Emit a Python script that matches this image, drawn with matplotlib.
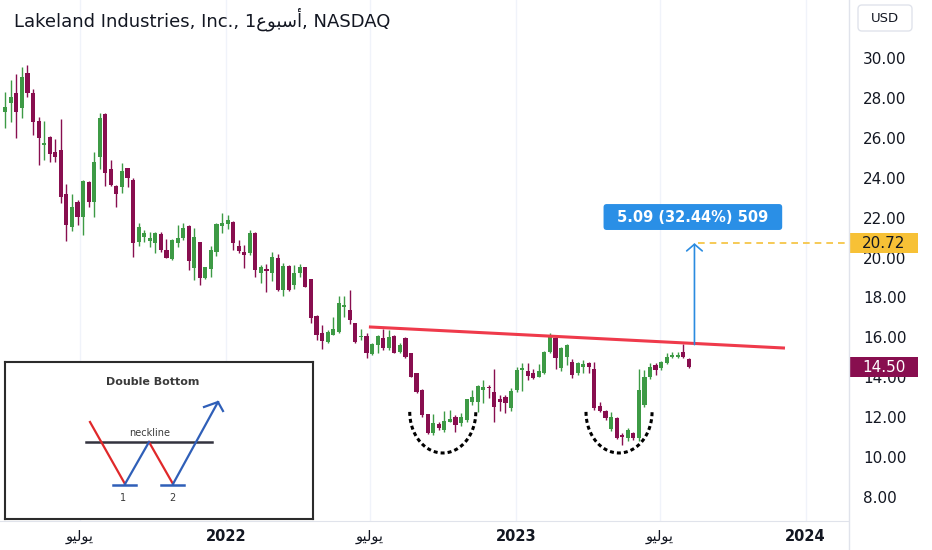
import matplotlib
matplotlib.use('Agg')
import matplotlib.pyplot as plt
import matplotlib.dates as mdates
import matplotlib.transforms as mtransforms
from matplotlib.patches import Rectangle, FancyBboxPatch
from matplotlib.lines import Line2D
import numpy as np
import pandas as pd

plt.rcParams['font.family'] = ['DejaVu Sans']

# weekly candles (last week = 2023-08-07)
opens = [27.31, 27.76, 28.23, 27.48, 29.23, 28.23, 26.86, 25.64, 26.06, 25.27,
         25.39, 23.18, 21.51, 22.76, 22.05, 23.80, 22.80, 25.05, 27.19, 24.42,
         23.60, 23.52, 24.50, 23.88, 20.79, 21.04, 20.84, 20.71, 21.18, 20.38,
         19.91, 20.71, 21.00, 21.60, 19.46, 20.76, 18.96, 19.40, 20.29, 21.58,
         21.66, 21.80, 20.59, 20.26, 20.21, 21.24, 19.24, 19.41, 19.21, 19.96,
         18.37, 19.57, 18.62, 19.21, 19.54, 18.90, 17.07, 16.23, 15.78, 16.11,
         16.28, 17.50, 17.37, 16.73, 16.00, 16.07, 15.16, 15.61, 15.95, 15.45,
         16.07, 15.28, 15.95, 15.20, 14.19, 13.36, 12.15, 11.19, 11.65, 11.35,
         11.77, 12.02, 11.69, 11.85, 12.77, 12.77, 13.36, 13.49, 13.27, 12.89,
         12.99, 12.44, 13.36, 14.36, 14.31, 14.23, 14.03, 14.19, 15.28, 15.95,
         14.44, 15.03, 14.78, 14.19, 14.53, 14.73, 14.40, 12.56, 12.32, 11.39,
         11.94, 11.10, 10.94, 11.22, 10.94, 12.61, 14.03, 14.61, 14.44, 14.73,
         14.99, 15.00, 15.28, 14.90]
highs = [28.31, 28.90, 29.18, 29.56, 29.65, 28.43, 27.06, 26.86, 26.09, 25.92,
         26.94, 23.67, 23.17, 22.88, 23.88, 23.83, 25.30, 27.23, 27.26, 24.89,
         23.63, 24.72, 24.50, 23.97, 21.75, 21.38, 21.29, 21.29, 21.29, 20.91,
         20.91, 21.63, 21.71, 21.63, 21.46, 20.79, 19.54, 20.58, 21.75, 22.21,
         22.13, 21.83, 20.88, 20.63, 21.38, 21.29, 19.62, 19.67, 20.29, 20.17,
         19.71, 19.62, 19.62, 19.67, 19.54, 18.90, 17.12, 16.62, 16.37, 17.03,
         18.07, 18.07, 18.37, 16.73, 16.40, 16.23, 15.73, 16.12, 16.40, 16.37,
         16.12, 15.70, 16.00, 15.23, 14.23, 13.39, 12.15, 12.15, 11.77, 12.32,
         12.36, 12.10, 12.19, 12.89, 13.36, 13.61, 13.86, 13.61, 14.40, 13.10,
         13.11, 13.44, 14.53, 14.73, 14.73, 14.40, 14.66, 15.33, 16.20, 16.03,
         15.50, 15.65, 14.90, 14.78, 14.86, 14.78, 14.78, 12.77, 12.36, 12.27,
         11.99, 11.19, 11.44, 11.27, 14.40, 14.36, 14.73, 14.70, 14.83, 15.23,
         15.28, 15.28, 15.66, 14.95]
lows = [26.47, 26.81, 25.97, 26.97, 28.06, 26.14, 24.64, 24.89, 24.80, 24.80,
        22.71, 20.84, 21.34, 21.63, 21.13, 22.51, 22.05, 24.42, 23.58, 23.58,
        22.55, 23.25, 23.55, 20.04, 20.60, 20.79, 20.51, 20.24, 20.29, 19.96,
        19.87, 20.51, 20.88, 19.37, 18.87, 18.62, 18.90, 19.00, 20.08, 21.21,
        21.41, 20.38, 20.21, 19.46, 20.12, 19.00, 18.74, 18.29, 18.84, 18.34,
        18.07, 18.34, 18.40, 19.00, 18.50, 16.73, 15.86, 15.40, 15.73, 16.11,
        16.20, 17.03, 16.66, 15.73, 15.86, 14.95, 15.11, 15.20, 15.36, 15.36,
        15.20, 15.20, 14.95, 14.00, 13.23, 12.02, 11.15, 11.10, 11.35, 11.27,
        11.77, 11.27, 11.55, 11.77, 12.61, 12.27, 12.69, 12.94, 11.77, 12.30,
        12.22, 12.32, 13.27, 13.32, 13.86, 13.89, 13.99, 14.16, 15.23, 14.40,
        14.33, 14.60, 13.95, 14.11, 14.19, 14.19, 12.36, 12.27, 11.85, 11.32,
        10.89, 10.60, 10.82, 10.85, 10.82, 12.49, 13.89, 14.11, 14.36, 14.66,
        14.95, 14.95, 14.95, 14.44]
closes = [27.53, 28.06, 27.31, 29.06, 28.23, 26.81, 25.97, 25.72, 25.19, 25.02,
          23.05, 21.63, 22.55, 22.01, 23.83, 22.80, 24.80, 26.98, 24.22, 23.63,
          23.17, 24.35, 23.97, 20.74, 21.55, 21.21, 20.96, 21.21, 20.38, 19.99,
          20.88, 20.96, 21.46, 19.84, 21.04, 18.96, 19.54, 20.37, 21.68, 21.71,
          21.88, 20.74, 20.34, 20.12, 21.21, 19.37, 19.54, 19.33, 20.04, 18.37,
          19.57, 18.37, 19.21, 19.51, 18.54, 16.95, 16.11, 15.83, 16.28, 16.40,
          17.70, 17.62, 16.87, 15.78, 16.07, 15.20, 15.66, 16.07, 15.45, 16.03,
          15.23, 15.61, 14.99, 14.03, 13.27, 12.10, 11.19, 11.69, 11.44, 11.82,
          11.89, 11.60, 12.02, 12.89, 13.02, 13.56, 13.52, 13.44, 12.49, 12.77,
          12.72, 13.32, 14.36, 14.44, 14.06, 13.94, 14.31, 15.28, 16.00, 14.95,
          15.45, 15.61, 14.10, 14.70, 14.65, 14.53, 12.44, 12.32, 11.94, 12.02,
          10.94, 11.02, 11.35, 10.94, 13.36, 13.99, 14.53, 14.36, 14.78, 14.99,
          15.11, 15.11, 14.99, 14.50]
last_week = '2023-08-07'

title = 'Lakeland Industries, Inc., 1\ufec9\ufeee\ufe92\ufeb3\ufe83, NASDAQ'
july = '\ufeee\ufef4\ufedf\ufeee\ufef3'
tick_dates = ['2021-07-01', '2022-01-01', '2022-07-01', '2023-01-01', '2023-07-01', '2024-01-01']
tick_labels = [july, '2022', july, '2023', july, '2024']
price_ticks = np.arange(8, 31, 2)

# drawings on the chart
neck_start, neck_end = ('2022-06-30', 16.52), ('2023-12-06', 15.46)
target, move_from = 20.72, 15.63
arrow_date = '2023-08-14'
measure_text = '5.09 (32.44%) 509'
bottoms = ['2022-10-01', '2023-05-11']   # centres of the dotted cups
cup_top, cup_low, cup_half = 12.26, 10.20, 41.6

GREEN = '#3d9a45'
MAROON = '#880e4f'
GRID = '#f0f3fa'
LINE = '#e0e3eb'
TXT = '#131722'

fig = plt.figure(figsize=(9.32, 5.5), dpi=100)
ax = fig.add_axes([0, 29 / 550, 848 / 932, 521 / 550])

dates = pd.date_range(end=last_week, periods=len(opens), freq='W-MON')
x = mdates.date2num(dates)
o, h, l, c = map(np.array, (opens, highs, lows, closes))
cols = np.where(c >= o, GREEN, MAROON)
ax.vlines(x, l, h, colors=cols, lw=1, zorder=3)
ax.bar(x, np.maximum(np.abs(c - o), 0.05), bottom=np.minimum(o, c), width=5.2,
       color=cols, linewidth=0, zorder=3)

jan22 = mdates.date2num(pd.Timestamp('2022-01-01'))
x0, x1 = jan22 - 226 / 0.794, jan22 + 622 / 0.794
ax.set_xlim(x0, x1)
ax.set_ylim(6.79, 32.91)

ax.set_xticks(mdates.date2num(pd.to_datetime(tick_dates)))
ax.set_xticklabels(tick_labels)
for t in ax.get_xticklabels():
    if t.get_text().isdigit():
        t.set_fontweight('bold')
ax.tick_params(axis='x', length=0, pad=6, labelsize=10.5, labelcolor=TXT)
ax.yaxis.tick_right()
ax.set_yticks(price_ticks)
ax.set_yticklabels(['%.2f' % v for v in price_ticks])
ax.tick_params(axis='y', length=0, pad=11, labelsize=11, labelcolor=TXT)
ax.grid(axis='x', color=GRID, lw=1, zorder=0)
for s in ['top', 'left', 'right']:
    ax.spines[s].set_visible(False)
ax.spines['bottom'].set_color(LINE)
fig.add_artist(Line2D([849 / 932] * 2, [0, 1], transform=fig.transFigure, color=LINE, lw=1))

# neckline
ax.plot(mdates.date2num(pd.to_datetime([neck_start[0], neck_end[0]])),
        [neck_start[1], neck_end[1]], color='#ef3a4b', lw=2.2, zorder=5,
        solid_capstyle='butt')

# dotted cups
th = np.linspace(0, np.pi, 60)
for b in bottoms:
    cx = mdates.date2num(pd.Timestamp(b))
    ax.plot(cx - cup_half * np.cos(th), cup_top - (cup_top - cup_low) * np.sin(th),
            color='black', lw=2.2, ls=(0, (1.3, 1.0)), zorder=5)

# measure arrow
xa = mdates.date2num(pd.Timestamp(arrow_date))
ax.annotate('', xy=(xa, target), xytext=(xa, move_from),
            arrowprops=dict(arrowstyle='->,head_length=0.3,head_width=0.35',
                            color='#2a8be0', lw=1.2, shrinkA=0, shrinkB=0,
                            mutation_scale=16), zorder=6)
ax.axhline(target, xmin=(xa + 5 - x0) / (x1 - x0), xmax=1, color='#f5c13a',
           lw=1.2, ls=(0, (4, 3)), zorder=4)
lbl_x = mdates.date2num(pd.Timestamp('2023-08-12'))
ax.add_patch(FancyBboxPatch((lbl_x - 112.5, 21.38), 225, 1.30,
                            boxstyle='round,pad=0,rounding_size=4',
                            mutation_aspect=0.04, fc='#2a8fe6', ec='none', zorder=7))
ax.text(lbl_x, 22.03, measure_text, color='white', fontsize=10.5, fontweight='bold',
        ha='center', va='center', zorder=8)

# price scale labels
bt = mtransforms.blended_transform_factory(ax.transAxes, ax.transData)
for val, fc, tc in [(target, '#f7c136', TXT), (closes[-1], MAROON, 'white')]:
    ax.add_patch(Rectangle((1.0025, val - 0.5), 0.08, 1.0, transform=bt,
                           clip_on=False, fc=fc, ec='none', zorder=10))
    ax.text(1.0425, val, '%.2f' % val, transform=bt, color=tc, fontsize=11,
            ha='center', va='center', clip_on=False, zorder=11)

# header
fig.text(14 / 932, 1 - 19 / 550, title, ha='left', va='center', fontsize=13,
         color=TXT)
fig.add_artist(FancyBboxPatch((858, 550 - 31), 54, 26,
                              boxstyle='round,pad=0,rounding_size=4',
                              transform=mtransforms.IdentityTransform(),
                              fc='white', ec=LINE, lw=1))
fig.text(885 / 932, 1 - 18 / 550, 'USD', ha='center', va='center', fontsize=9.5,
         color=TXT)

# inset sketch of the pattern (pixel coordinates of the sketch box)
neck_pts = [(86, 442), (212, 442)]
red_legs = [[(90, 422), (125, 484)], [(149, 442), (173, 484)]]
blue_legs = [[(125, 484), (149, 442)], [(173, 484), (218, 402)]]
head = [(204, 407), (218, 402), (223, 411)]
bars = [[(113, 485), (136, 485)], [(161, 485), (184, 485)]]

axi = fig.add_axes([5 / 932, 31 / 550, 308 / 932, 157 / 550])
axi.set_zorder(5)
axi.set_xlim(5, 313)
axi.set_ylim(519, 362)
axi.set_xticks([])
axi.set_yticks([])
for s in axi.spines.values():
    s.set_color('#2b2b2b')
    s.set_linewidth(1.5)
axi.text(153, 382, 'Double Bottom', ha='center', va='center', fontsize=8,
         fontweight='bold', color='#3a3a3a')
axi.plot(*zip(*neck_pts), color='#33333f', lw=1.8)
axi.text(150, 433, 'neckline', ha='center', va='center', fontsize=7, color='#3a3a3a')
for seg in red_legs:
    axi.plot(*zip(*seg), color='#e0282a', lw=1.6)
for seg in blue_legs:
    axi.plot(*zip(*seg), color='#2f5fb8', lw=1.6)
axi.plot(*zip(*head), color='#2f5fb8', lw=1.6)
for seg in bars:
    axi.plot(*zip(*seg), color='#2f5fb8', lw=1.8)
axi.text(123, 498, '1', ha='center', va='center', fontsize=7, color='#3a3a3a')
axi.text(172, 498, '2', ha='center', va='center', fontsize=7, color='#3a3a3a')

fig.savefig('out.png', dpi=100)
